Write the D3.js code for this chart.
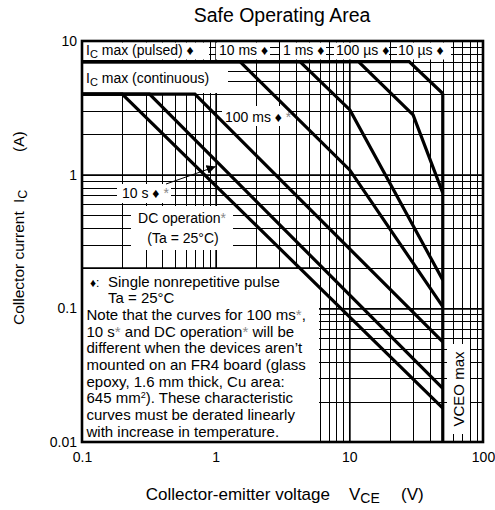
<!DOCTYPE html>
<html>
<head>
<meta charset="utf-8">
<script src="https://cdn.jsdelivr.net/npm/d3@7"></script>
<style>
  body { margin: 0; background: #fff; }
  text { font-family: "Liberation Sans", Arial, sans-serif; fill: #000; }
</style>
</head>
<body>
<script>
// ---- data (V_CE in volts, I_C in amps) ----
const xTickValues = [0.1, 1, 10, 100];
const xTickLabels = ["0.1", "1", "10", "100"];
const yTickValues = [0.01, 0.1, 1, 10];
const yTickLabels = ["0.01", "0.1", "1", "10"];

// pulsed curves, all start on the 7 A (Ic max pulsed) line
const pulse10us  = [[0.1, 7], [28, 7], [50, 4.05]];
const pulse100us = [[0.1, 7], [11.7, 7], [30, 2.8], [50, 0.73]];
const pulse1ms   = [[0.1, 7], [4.27, 7], [10.1, 3.05], [50, 0.163]];
const pulse10ms  = [[0.1, 7], [1.52, 7], [10.1, 1.08], [50, 0.103]];
// curves starting on the 4 A (Ic max continuous) line
const pulse100ms = [[0.1, 4], [0.7, 4], [50, 0.056]];
const pulse10s   = [[0.1, 4], [0.32, 4], [50, 0.0252]];
const dcOp       = [[0.1, 4], [0.2, 4], [50, 0.0179]];
// VCEO max limit
const vceoLimit  = [[50, 4.05], [50, 0.01]];

const curves = [pulse10us, pulse100us, pulse1ms, pulse10ms, pulse100ms, pulse10s, dcOp, vceoLimit];

const noteLines = [
  "Note that the curves for 100 ms*,",
  "10 s* and DC operation* will be",
  "different when the devices aren\u2019t",
  "mounted on an FR4 board (glass",
  "epoxy, 1.6 mm thick, Cu area:",
  "645 mm^2). These characteristic",
  "curves must be derated linearly",
  "with increase in temperature."
];

// ---- svg ----
const width = 495, height = 510;
const svg = d3.select("body").append("svg")
    .attr("width", width)
    .attr("height", height);

const x = d3.scaleLog().domain([0.1, 100]).range([82, 483]);
const y = d3.scaleLog().domain([0.01, 10]).range([442, 41]);

// grid values 2..9 per decade
const gridX = [], gridY = [];
[0.1, 1, 10].forEach(d => { for (let k = 2; k <= 9; k++) gridX.push(+(k * d).toPrecision(3)); });
[0.01, 0.1, 1].forEach(d => { for (let k = 2; k <= 9; k++) gridY.push(+(k * d).toPrecision(3)); });

const grid = svg.append("g").attr("class", "grid");

grid.append("g")
    .attr("transform", "translate(0,442)")
    .call(d3.axisBottom(x).tickValues(gridX).tickSize(-401).tickFormat(""))
    .call(g => g.select(".domain").remove())
    .selectAll("line").attr("stroke", "#000").attr("shape-rendering", "crispEdges");

grid.append("g")
    .attr("transform", "translate(82,0)")
    .call(d3.axisLeft(y).tickValues(gridY).tickSize(-401).tickFormat(""))
    .call(g => g.select(".domain").remove())
    .selectAll("line").attr("stroke", "#000").attr("shape-rendering", "crispEdges");

// decade lines a bit heavier
grid.append("g")
    .attr("transform", "translate(0,442)")
    .call(d3.axisBottom(x).tickValues([1, 10]).tickSize(-401).tickFormat(""))
    .call(g => g.select(".domain").remove())
    .selectAll("line").attr("stroke", "#000").attr("stroke-width", 1.7);

grid.append("g")
    .attr("transform", "translate(82,0)")
    .call(d3.axisLeft(y).tickValues([0.1, 1]).tickSize(-401).tickFormat(""))
    .call(g => g.select(".domain").remove())
    .selectAll("line").attr("stroke", "#000").attr("stroke-width", 1.7);

// white label backgrounds that cut the grid  [x0, y0, x1, y1]
const boxes = [
  [83, 42.5, 209, 59.5],    // Ic max (pulsed)
  [216, 42.5, 270, 59.5],   // 10 ms
  [280, 42.5, 326, 59.5],   // 1 ms
  [334, 42.5, 389, 59.5],   // 100 us
  [397, 42.5, 451, 59.5],   // 10 us
  [83, 62.5, 228, 93],      // Ic max (continuous)
  [222, 106, 291, 126],     // 100 ms
  [117, 184, 171, 203],     // 10 s
  [131, 206, 233, 250],     // DC operation
  [83, 268.5, 319, 441],    // note
  [447, 344, 470, 434]      // VCEO max
];
svg.append("g").selectAll("rect")
  .data(boxes)
  .join("rect")
    .attr("x", d => d[0]).attr("y", d => d[1])
    .attr("width", d => d[2] - d[0]).attr("height", d => d[3] - d[1])
    .attr("fill", "#fff");

// note box top edge
svg.append("line")
    .attr("x1", 82).attr("x2", 319)
    .attr("y1", y(0.2)).attr("y2", y(0.2))
    .attr("stroke", "#000").attr("stroke-width", 1.6);

// frame
svg.append("rect")
    .attr("x", 82).attr("y", 41)
    .attr("width", 401).attr("height", 401)
    .attr("fill", "none")
    .attr("stroke", "#000")
    .attr("stroke-width", 2.6);

// curves
const line = d3.line().x(d => x(d[0])).y(d => y(d[1]));
svg.append("g").selectAll("path")
  .data(curves)
  .join("path")
    .attr("d", line)
    .attr("fill", "none")
    .attr("stroke", "#000")
    .attr("stroke-width", 3.2);

// axes labels
svg.append("g")
    .attr("transform", "translate(0,442)")
    .call(d3.axisBottom(x).tickValues(xTickValues).tickSize(0).tickPadding(10)
      .tickFormat((d, i) => xTickLabels[i]))
    .call(g => g.select(".domain").remove())
    .selectAll("text").attr("font-size", 14).attr("font-family", "Liberation Sans, Arial, sans-serif");

svg.append("g")
    .attr("transform", "translate(82,0)")
    .call(d3.axisLeft(y).tickValues(yTickValues).tickSize(0).tickPadding(5)
      .tickFormat((d, i) => yTickLabels[i]))
    .call(g => g.select(".domain").remove())
    .selectAll("text").attr("font-size", 14).attr("font-family", "Liberation Sans, Arial, sans-serif");

// title
svg.append("text")
    .attr("x", 282).attr("y", 22)
    .attr("text-anchor", "middle")
    .attr("font-size", 19.5)
    .text("Safe Operating Area");

// x title
const xt = svg.append("g").attr("font-size", 17);
xt.append("text").attr("x", 330).attr("y", 500).attr("text-anchor", "end").text("Collector-emitter voltage");
const vce = xt.append("text").attr("x", 349).attr("y", 500);
vce.append("tspan").text("V");
vce.append("tspan").attr("font-size", 14).attr("dy", 3).text("CE");
xt.append("text").attr("x", 401).attr("y", 500).text("(V)");

// y title
const yt = svg.append("g").attr("font-size", 15.5).attr("transform", "translate(24,325) rotate(-90)");
yt.append("text").attr("x", 0).attr("y", 0).text("Collector current");
const ic = yt.append("text").attr("x", 122).attr("y", 0);
ic.append("tspan").text("I");
ic.append("tspan").attr("font-size", 12.5).attr("dy", 3).text("C");
yt.append("text").attr("x", 173).attr("y", 0).text("(A)");

// curve labels
const lab = svg.append("g").attr("font-size", 14);

function starText(sel, str) {
  str.split("*").forEach((part, i, arr) => {
    sel.append("tspan").text(part);
    if (i < arr.length - 1) sel.append("tspan").attr("fill", "#888").text("*");
  });
}

const pulsed = lab.append("text").attr("x", 86).attr("y", 55);
pulsed.append("tspan").text("I");
pulsed.append("tspan").attr("font-size", 11).attr("dy", 3).text("C");
pulsed.append("tspan").attr("dy", -3).text(" max (pulsed) \u2666");

lab.append("text").attr("x", 219).attr("y", 55).text("10 ms \u2666");
lab.append("text").attr("x", 283).attr("y", 55).text("1 ms \u2666");
lab.append("text").attr("x", 336).attr("y", 55).text("100 \u00b5s \u2666");
lab.append("text").attr("x", 398).attr("y", 55).text("10 \u00b5s \u2666");

const cont = lab.append("text").attr("x", 86).attr("y", 83);
cont.append("tspan").text("I");
cont.append("tspan").attr("font-size", 11).attr("dy", 3).text("C");
cont.append("tspan").attr("dy", -3).text(" max (continuous)");

starText(lab.append("text").attr("x", 225).attr("y", 121.5), "100 ms \u2666 *");
starText(lab.append("text").attr("x", 122).attr("y", 198), "10 s \u2666 *");
starText(lab.append("text").attr("x", 182).attr("y", 222.5).attr("text-anchor", "middle"), "DC operation*");
lab.append("text").attr("x", 183).attr("y", 242.5).attr("text-anchor", "middle").text("(Ta = 25\u00b0C)");

lab.append("text")
    .attr("transform", "translate(463.5,389) rotate(-90)")
    .attr("text-anchor", "middle")
    .attr("font-size", 15)
    .text("VCEO max");

// arrow 10 s label -> curve
svg.append("defs").append("marker")
    .attr("id", "arr")
    .attr("viewBox", "0 0 10 10")
    .attr("refX", 10).attr("refY", 5)
    .attr("markerWidth", 9).attr("markerHeight", 9)
    .attr("markerUnits", "userSpaceOnUse")
    .attr("orient", "auto")
  .append("path")
    .attr("d", "M0,0L10,5L0,10z")
    .attr("fill", "#000");

svg.append("line")
    .attr("x1", 166).attr("y1", 184)
    .attr("x2", x(1)).attr("y2", y(1.15))
    .attr("stroke", "#000")
    .attr("stroke-width", 1)
    .attr("marker-end", "url(#arr)");

// note text
const note = svg.append("g").attr("font-size", 15);
note.append("text").attr("x", 90).attr("y", 286.5).attr("font-size", 12).text("\u2666:");
note.append("text").attr("x", 108).attr("y", 286.5).text("Single nonrepetitive pulse");
note.append("text").attr("x", 108).attr("y", 303.2).text("Ta = 25\u00b0C");

noteLines.forEach((s, i) => {
  const t = note.append("text").attr("x", 86.5).attr("y", 319.9 + i * 16.7);
  if (s.includes("^2")) {
    const [a, b] = s.split("^2");
    t.append("tspan").text(a);
    t.append("tspan").attr("font-size", 9).attr("dy", -5).text("2");
    t.append("tspan").attr("dy", 5).text(b);
  } else {
    starText(t, s);
  }
});
</script>
</body>
</html>
